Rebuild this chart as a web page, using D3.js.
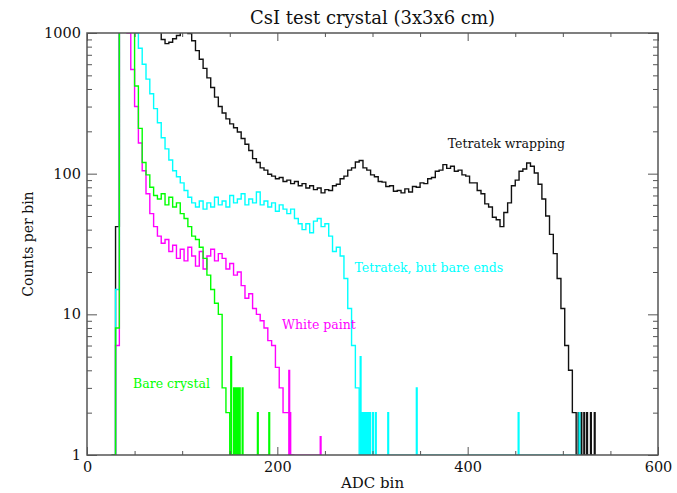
<!DOCTYPE html>
<html>
<head>
<meta charset="utf-8">
<script src="https://cdn.jsdelivr.net/npm/d3@7"></script>
<style>
  body { margin: 0; background: #fff; }
  text { font-family: "DejaVu Serif", serif; }
</style>
</head>
<body>
<svg id="chart" width="677" height="493"></svg>
<script>
// ADC histogram bins: first bin starts at 26, each bin is 4 ADC units wide
const binStart = 26, binWidth = 4;

// counts per bin (values above 1000 run off the top of the plot)
const tetratekWrap = [
  0, 42, 2000, 2000, 2000, 2000, 2000, 2000, 2000, 2000, 2000, 2000,
  1400, 900, 840, 860, 910, 960, 1010, 1060, 990, 880, 750, 650,
  560, 480, 410, 350, 300, 270, 245, 226, 212, 198, 178, 162,
  146, 128, 120, 110, 106, 99, 96, 92, 94, 88, 90, 85,
  88, 82, 85, 79, 82, 77, 79, 73, 77, 76, 82, 84,
  92, 96, 106, 110, 121, 124, 110, 106, 98, 95, 88, 87,
  81, 82, 75, 76, 73, 78, 74, 81, 80, 86, 85, 92,
  94, 104, 106, 116, 109, 113, 104, 106, 98, 96, 86, 86,
  76, 72, 61, 58, 49, 47, 42, 53, 62, 82, 90, 104,
  108, 119, 113, 101, 84, 66, 50, 37, 27, 18, 11, 6,
  4, 2, 0
];
const tetratekBareEnds = [
  0, 15, 2000, 2000, 2000, 2000, 1000, 780, 600, 470, 370, 290,
  230, 180, 150, 125, 105, 95, 86, 76, 68, 62, 58, 64,
  56, 62, 58, 68, 60, 64, 58, 70, 62, 66, 72, 60,
  66, 62, 74, 60, 64, 58, 62, 54, 60, 56, 52, 56,
  48, 44, 40, 44, 38, 46, 48, 42, 44, 36, 28, 30,
  26, 18, 11, 6, 3, 0
];
const whitePaint = [
  0, 6, 2000, 2000, 1000, 550, 300, 165, 105, 72, 52, 42,
  36, 32, 34, 28, 31, 25, 29, 24, 30, 26, 22, 28,
  21, 26, 29, 24, 27, 25, 21, 23, 19, 20, 16, 13,
  14, 11, 10, 9, 8, 6.5, 6, 4.2, 3, 2, 2, 0
];
const bareCrystal = [
  0, 8, 2000, 2000, 2000, 1200, 420, 210, 120, 98, 80, 70,
  66, 72, 60, 68, 58, 62, 52, 48, 42, 36, 34, 30,
  25, 19, 15, 12, 10, 3, 2, 0
];

// isolated single-bin hits in the tails: [adc, count]
const tetratekWrapTail = [[516, 2], [519, 2], [522, 2], [525, 2], [529, 2], [533, 2]];
const tetratekBareEndsTail = [[287, 5], [289, 2], [291, 2], [293, 2], [295, 2], [297, 2],
  [300, 2], [303, 2], [316, 2], [346, 3], [453, 2], [517, 2]];
const whitePaintTail = [[212, 4], [245, 1.35]];
const bareCrystalTail = [[151, 5], [154, 3], [156, 3], [158, 3], [160, 3], [163, 3], [179, 2], [191, 2]];

const xTicksMajor = [0, 200, 400, 600];
const xTicksMinor = [50, 100, 150, 250, 300, 350, 450, 500, 550];
const yTicksMajor = [1, 10, 100, 1000];

const svg = d3.select('#chart');
const margin = {top: 33, right: 19, bottom: 38, left: 87},
  width = +svg.attr('width') - margin.left - margin.right,
  height = +svg.attr('height') - margin.top - margin.bottom;

const x = d3.scaleLinear().domain([0, 600]).range([0, width]);
const y = d3.scaleLog().domain([1, 1000]).range([height, 0]);
const yMinor = [];
[1, 10, 100].forEach(d => { for (let k = 2; k <= 9; k++) yMinor.push(d * k); });

const g = svg.append('g')
  .attr('transform', `translate(${margin.left},${margin.top})`);

g.append('clipPath').attr('id', 'plotclip')
  .append('rect').attr('width', width).attr('height', height);

const yc = v => y(Math.max(v, 1));
const line = d3.line().x(d => x(d[0])).y(d => yc(d[1]));

function histPoints(counts) {
  const pts = [];
  counts.forEach((c, i) => {
    const b = binStart + i * binWidth;
    pts.push([b, c], [b + binWidth, c]);
  });
  return pts;
}
function tailPoints(hits) {
  const pts = [];
  hits.forEach(h => { pts.push([h[0], 1], [h[0], h[1]], [h[0] + 1, h[1]], [h[0] + 1, 1]); });
  return pts;
}

const series = [
  {counts: tetratekWrap, tail: tetratekWrapTail, color: '#111'},
  {counts: tetratekBareEnds, tail: tetratekBareEndsTail, color: '#00ffff'},
  {counts: whitePaint, tail: whitePaintTail, color: '#ff00ff'},
  {counts: bareCrystal, tail: bareCrystalTail, color: '#00ff00'}
];

const plot = g.append('g').attr('clip-path', 'url(#plotclip)');
series.forEach(s => {
  plot.append('path')
    .attr('d', line(histPoints(s.counts)))
    .attr('fill', 'none').attr('stroke', s.color).attr('stroke-width', 1.4);
  plot.append('path')
    .attr('d', line(tailPoints(s.tail)))
    .attr('fill', 'none').attr('stroke', s.color).attr('stroke-width', 1.2);
});

// axes, ticks pointing inward on all four sides
function styleAxis(sel) {
  sel.select('.domain').remove();
  sel.selectAll('line').attr('stroke', '#555').attr('stroke-width', 1);
  sel.selectAll('text').attr('fill', '#111')
    .style('font-family', '"DejaVu Serif", serif').style('font-size', '14.5px');
}

g.append('g').attr('transform', `translate(0,${height})`)
  .call(d3.axisBottom(x).tickValues(xTicksMajor).tickSize(-8).tickPadding(7).tickFormat(d3.format('d')))
  .call(styleAxis);
g.append('g').attr('transform', `translate(0,${height})`)
  .call(d3.axisBottom(x).tickValues(xTicksMinor).tickSize(-4).tickFormat(''))
  .call(styleAxis);
g.append('g')
  .call(d3.axisTop(x).tickValues(xTicksMajor).tickSize(-8).tickFormat(''))
  .call(styleAxis);
g.append('g')
  .call(d3.axisTop(x).tickValues(xTicksMinor).tickSize(-4).tickFormat(''))
  .call(styleAxis);

g.append('g')
  .call(d3.axisLeft(y).tickValues(yTicksMajor).tickSize(-10).tickPadding(6).tickFormat(d3.format('d')))
  .call(styleAxis);
g.append('g')
  .call(d3.axisLeft(y).tickValues(yMinor).tickSize(-5).tickFormat(''))
  .call(styleAxis);
g.append('g').attr('transform', `translate(${width},0)`)
  .call(d3.axisRight(y).tickValues(yTicksMajor).tickSize(-10).tickFormat(''))
  .call(styleAxis);
g.append('g').attr('transform', `translate(${width},0)`)
  .call(d3.axisRight(y).tickValues(yMinor).tickSize(-5).tickFormat(''))
  .call(styleAxis);

g.append('rect')
  .attr('width', width).attr('height', height)
  .attr('fill', 'none').attr('stroke', '#555').attr('stroke-width', 1.5);

// titles
svg.append('text')
  .attr('x', margin.left + width / 2).attr('y', 24)
  .attr('text-anchor', 'middle').style('font-size', '18px').attr('fill', '#111')
  .text('CsI test crystal (3x3x6 cm)');
svg.append('text')
  .attr('x', margin.left + width / 2).attr('y', 488)
  .attr('text-anchor', 'middle').style('font-size', '15px').attr('fill', '#111')
  .text('ADC bin');
svg.append('text')
  .attr('transform', `translate(33,${margin.top + height / 2}) rotate(-90)`)
  .attr('text-anchor', 'middle').style('font-size', '14px').attr('fill', '#111')
  .text('Counts per bin');

// curve labels (placed in data coordinates)
const labels = [
  {text: 'Tetratek wrapping', adc: 379, count: 152, color: '#111'},
  {text: 'Tetratek, but bare ends', adc: 281, count: 20, color: '#00ffff'},
  {text: 'White paint', adc: 205, count: 7.9, color: '#ff00ff'},
  {text: 'Bare crystal', adc: 48.4, count: 3.0, color: '#00ff00'}
];
g.selectAll('.lbl')
  .data(labels)
  .enter().append('text')
  .attr('class', 'lbl')
  .attr('x', d => x(d.adc))
  .attr('y', d => y(d.count))
  .attr('fill', d => d.color)
  .style('font-size', '12.5px')
  .text(d => d.text);
</script>
</body>
</html>
